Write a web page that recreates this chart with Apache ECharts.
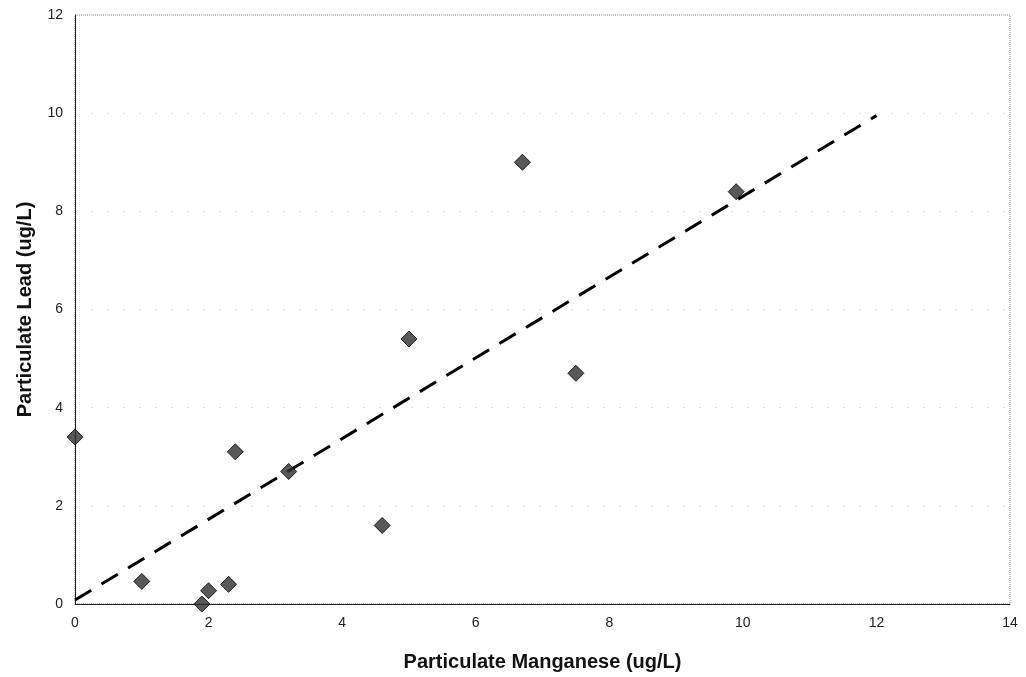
<!DOCTYPE html>
<html>
<head>
<meta charset="utf-8">
<script src="https://cdn.jsdelivr.net/npm/echarts@6/dist/echarts.min.js"></script>
<style>
  html, body { margin: 0; padding: 0; background: #fff; }
  #chart { width: 1026px; height: 677px; }
</style>
</head>
<body>
<div id="chart"></div>
<script>
// measured points (Mn, Pb)
const manganese = [0, 1.0, 1.9, 2.0, 2.3, 2.4, 3.2, 4.6, 5.0, 6.7, 7.5, 9.9];
const lead = [3.4, 0.46, 0.0, 0.27, 0.4, 3.1, 2.7, 1.6, 5.4, 9.0, 4.7, 8.4];

// trend line end points
const trendX = [0, 12];
const trendY = [0.08, 9.95];

const chartDom = document.getElementById("chart");
const myChart = echarts.init(chartDom);

const option = {
  animation: false,
  backgroundColor: "#fff",
  grid: {
    left: 75,
    right: 16,
    top: 15,
    bottom: 72,
    show: true,
    borderColor: "#888",
    borderWidth: 1,
    borderType: "dotted",
  },
  xAxis: {
    type: "value",
    min: 0,
    max: 14,
    interval: 2,
    name: "Particulate Manganese (ug/L)",
    nameLocation: "middle",
    nameGap: 48,
    nameTextStyle: {
      fontFamily: "Liberation Sans",
      fontWeight: "bold",
      fontSize: 20,
      color: "#111",
    },
    axisLine: { show: true, lineStyle: { color: "#222", width: 1 } },
    axisTick: { show: false },
    axisLabel: {
      fontFamily: "Liberation Sans",
      fontSize: 14,
      color: "#222",
      margin: 12,
    },
    splitLine: { show: false },
  },
  yAxis: {
    type: "value",
    min: 0,
    max: 12,
    interval: 2,
    name: "Particulate Lead (ug/L)",
    nameLocation: "middle",
    nameGap: 40,
    nameTextStyle: {
      fontFamily: "Liberation Sans",
      fontWeight: "bold",
      fontSize: 20,
      color: "#111",
    },
    axisLine: { show: true, lineStyle: { color: "#222", width: 1 } },
    axisTick: { show: false },
    axisLabel: {
      fontFamily: "Liberation Sans",
      fontSize: 14,
      color: "#222",
      margin: 12,
    },
    splitLine: {
      show: true,
      lineStyle: { color: "#ddd", type: [2, 14], width: 1 },
    },
  },
  series: [
    {
      type: "line",
      data: trendX.map((x, i) => [x, trendY[i]]),
      showSymbol: false,
      symbol: "none",
      lineStyle: { color: "#000", width: 3, type: [19, 12] },
      z: 2,
    },
    {
      type: "scatter",
      data: manganese.map((x, i) => [x, lead[i]]),
      // square turned on its corner, like the spreadsheet marker
      symbol: "path://M0,-1L1,0L0,1L-1,0Z",
      symbolSize: [16, 16],
      itemStyle: { color: "#2e2e2e", borderColor: "#000", borderWidth: 1 },
      z: 3,
    },
  ],
};

option && myChart.setOption(option);
</script>
</body>
</html>
